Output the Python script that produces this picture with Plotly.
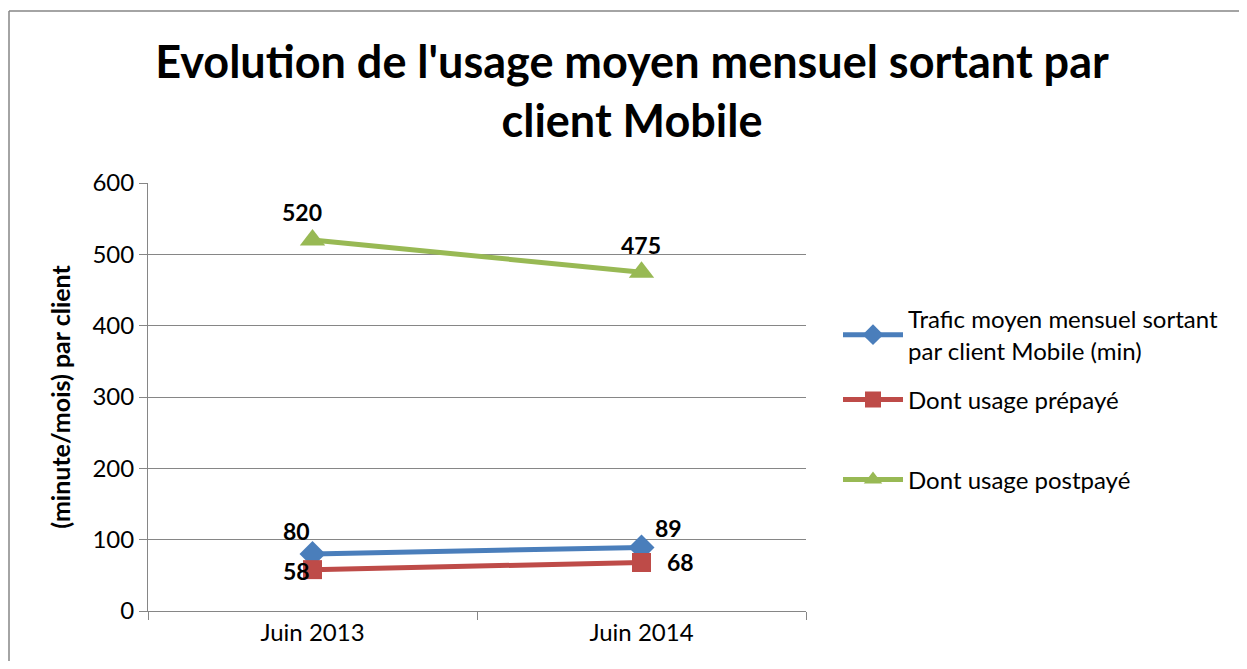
import plotly.graph_objects as go

categories = ["Juin 2013", "Juin 2014"]
trafic_total = [80, 89]
usage_prepaye = [58, 68]
usage_postpaye = [520, 475]
series_names = [
    "Trafic moyen mensuel sortant<br>par client Mobile (min)",
    "Dont usage prépayé",
    "Dont usage postpayé",
]
y_ticks = [0, 100, 200, 300, 400, 500, 600]

FONT = "Lato, 'Open Sans', sans-serif"
OFF = 8  # page body margin
W, H = 1247 - 2 * OFF, 669 - 2 * OFF
SX0, SX1, SY0, SY1 = 148, 806, 183, 611
L, R, T, B = SX0 - OFF, W - (SX1 - OFF), SY0 - OFF, H - (SY1 - OFF)
PW, PH = W - L - R, H - T - B


def px_x(p):
    return (p - OFF - L) / PW


def px_y(p):
    return (H - B - (p - OFF)) / PH


label_font = dict(family=FONT, size=23, color="black", weight="bold")

series = [
    dict(name=series_names[0], y=trafic_total, color="#4A7EBB", symbol="diamond", size=20,
         legend="legend", shifts=[(-16, 23), (27, 20)]),
    dict(name=series_names[1], y=usage_prepaye, color="#BE4B48", symbol="square", size=19,
         legend="legend2", shifts=[(-16, -1), (39, 0)]),
    dict(name=series_names[2], y=usage_postpaye, color="#98B954", symbol="triangle-up", size=22,
         legend="legend3", shifts=[(-11, 28), (-1, 27)]),
]

fig = go.Figure()
annotations = []
for s in series:
    fig.add_trace(go.Scatter(
        x=categories, y=s["y"], name=s["name"], mode="lines+markers",
        line=dict(color=s["color"], width=5),
        marker=dict(symbol=s["symbol"], size=s["size"], color=s["color"]),
        legend=s["legend"], cliponaxis=False,
    ))
    for cat, val, (dx, dy) in zip(categories, s["y"], s["shifts"]):
        annotations.append(dict(x=cat, y=val, xref="x", yref="y", text=str(val),
                                showarrow=False, xanchor="center", yanchor="middle",
                                xshift=dx, yshift=dy, font=label_font))

legend_common = dict(font=dict(family=FONT, size=24, color="black"), bgcolor="rgba(0,0,0,0)",
                     xanchor="left", yanchor="middle", itemwidth=60)
border = dict(color="#868686", width=1.5)
fig.update_layout(
    width=W, height=H,
    showlegend=True,
    margin=dict(l=L, r=R, t=T, b=B),
    paper_bgcolor="white", plot_bgcolor="white",
    title=dict(text="<b>Evolution de l'usage moyen mensuel sortant par<br>client Mobile</b>",
               x=px_x(632), xref="paper", xanchor="center", y=1 - (78 - OFF) / H, yanchor="middle",
               font=dict(family=FONT, size=45, color="black")),
    xaxis=dict(type="category", range=[-0.5, 1.5], tickson="boundaries",
               showgrid=False, showline=True, linecolor="#868686", linewidth=1,
               ticks="outside", ticklen=8, tickcolor="#868686",
               tickfont=dict(family=FONT, size=24, color="black")),
    yaxis=dict(range=[0, 600], tickvals=y_ticks, showgrid=True, gridcolor="#868686", gridwidth=1,
               showline=True, linecolor="#868686", linewidth=1, zeroline=False,
               ticks="outside", ticklen=8, tickcolor="#868686",
               tickfont=dict(family=FONT, size=24, color="black"),
               title=dict(text="<b>(minute/mois) par client</b>", standoff=14,
                          font=dict(family=FONT, size=25, color="black"))),
    legend=dict(x=px_x(838), y=px_y(335), **legend_common),
    legend2=dict(x=px_x(838), y=px_y(400), **legend_common),
    legend3=dict(x=px_x(838), y=px_y(480), **legend_common),
    annotations=annotations,
    shapes=[
        dict(type="line", xref="paper", yref="paper", x0=px_x(9), x1=px_x(1300),
             y0=px_y(11), y1=px_y(11), line=border, layer="below"),
        dict(type="line", xref="paper", yref="paper", x0=px_x(9), x1=px_x(9),
             y0=px_y(11), y1=px_y(700), line=border, layer="below"),
    ],
)

fig.write_html("out.html")
